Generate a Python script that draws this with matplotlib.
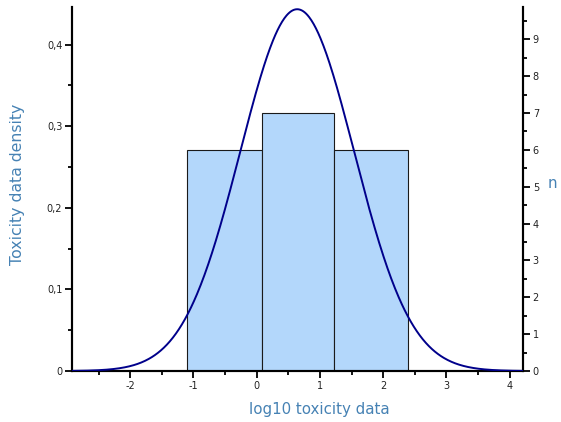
import numpy as np
import matplotlib
matplotlib.use("Agg")
import matplotlib.pyplot as plt
from matplotlib.ticker import MultipleLocator, FuncFormatter

# Data
bin_edges = [-1.098, 0.079, 1.228, 2.399]
counts = [6, 7, 6]
fit_mean = 0.64
fit_sd = 0.90
x_range = (-2.92, 4.21)
density_top = 0.446

n_total = sum(counts)
bin_width = np.mean(np.diff(bin_edges))

fig = plt.figure(figsize=(5.61, 4.22), dpi=100)
ax = fig.add_axes([72/561, 51/422, (523-72)/561, (371-7)/422])
ax2 = ax.twinx()

# Histogram on right axis (counts)
lefts = bin_edges[:-1]
widths = np.diff(bin_edges)
ax2.bar(lefts, counts, width=widths, align='edge', color='#b3d7fb',
        edgecolor='#1a1a1a', linewidth=0.8, zorder=1)

# Normal curve on left axis (density)
xs = np.linspace(x_range[0], x_range[1], 600)
pdf = np.exp(-0.5*((xs-fit_mean)/fit_sd)**2)/(fit_sd*np.sqrt(2*np.pi))
ax.plot(xs, pdf, color='#00008b', linewidth=1.4, zorder=3)
ax.set_zorder(ax2.get_zorder()+1)
ax.patch.set_visible(False)

ax.set_xlim(*x_range)
ax.set_ylim(0, density_top)
ax2.set_ylim(0, density_top*n_total*bin_width)

for a in (ax, ax2):
    a.spines['top'].set_visible(False)
    for s in ('left', 'right', 'bottom'):
        a.spines[s].set_linewidth(1.5)
        a.spines[s].set_color('black')

ax.xaxis.set_major_locator(MultipleLocator(1))
ax.xaxis.set_minor_locator(MultipleLocator(0.5))
ax.yaxis.set_major_locator(MultipleLocator(0.1))
ax.yaxis.set_minor_locator(MultipleLocator(0.05))
ax2.yaxis.set_major_locator(MultipleLocator(1))
ax2.yaxis.set_minor_locator(MultipleLocator(0.5))

def comma_fmt(v, pos):
    if abs(v) < 1e-9:
        return '0'
    return ('%.1f' % v).replace('.', ',')
ax.yaxis.set_major_formatter(FuncFormatter(comma_fmt))
ax.xaxis.set_major_formatter(FuncFormatter(lambda v, p: '%d' % round(v)))

for a in (ax, ax2):
    a.tick_params(which='major', length=5, width=1.3, labelsize=7, pad=2, color='black', labelcolor='#222222')
    a.tick_params(which='minor', length=3, width=1.3, color='black')

ax.set_xlabel('log10 toxicity data', color='#4682b4', fontsize=10.8)
ax.xaxis.set_label_coords(0.549, -0.107)
ax.xaxis.label.set_va('center')
ax.set_ylabel('Toxicity data density', color='#4682b4', fontsize=11.3)
ax.yaxis.set_label_coords(-0.12, 0.514)
ax.yaxis.label.set_va('center')
ax2.set_ylabel('n', color='#4682b4', fontsize=10.8, rotation=0, va='center', ha='center')
ax2.yaxis.set_label_coords(1.066, 0.514)

fig.savefig('out.png', dpi=100)
